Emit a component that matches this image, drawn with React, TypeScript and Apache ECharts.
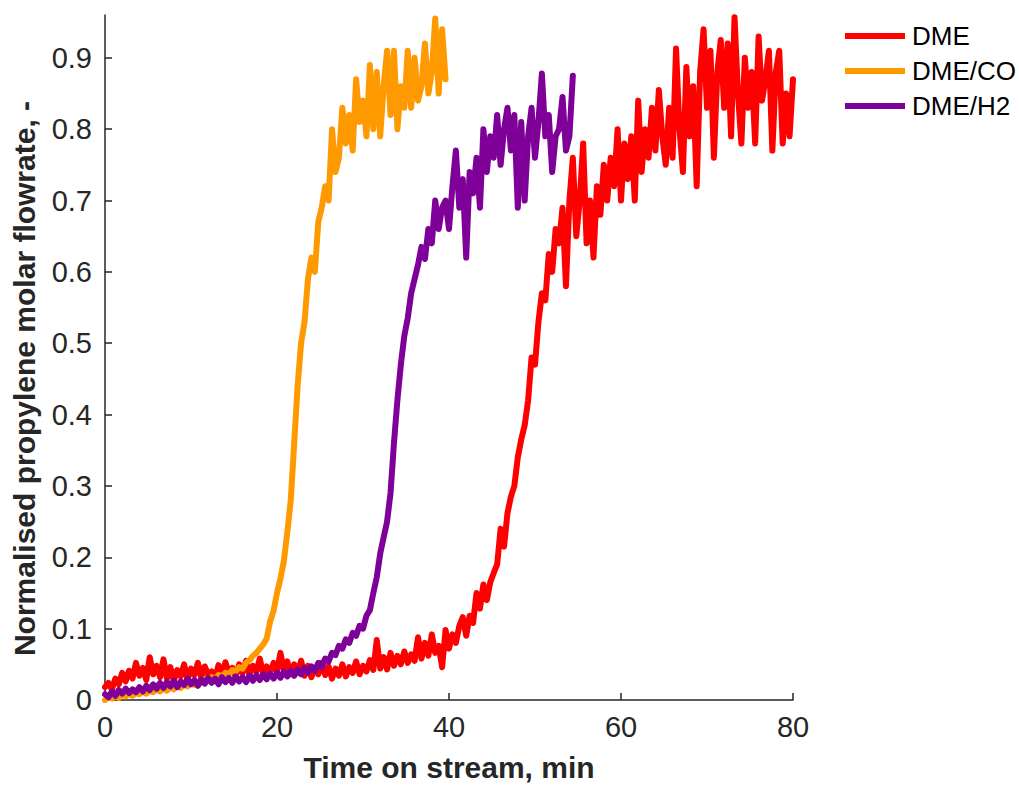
import React, { useEffect, useRef } from "react";
import * as echarts from "echarts";

// Sampling step of the recorded time series (min)
const TIME_STEP = 0.4;

// DME (red), t = 0 ... 80 min
const dmeValues = [
  0.018, 0.024, 0.015, 0.030, 0.022, 0.038, 0.026, 0.041, 0.030, 0.052,
  0.034, 0.045, 0.028, 0.060, 0.036, 0.048, 0.032, 0.057, 0.030, 0.046,
  0.027, 0.042, 0.033, 0.050, 0.029, 0.044, 0.035, 0.052, 0.031, 0.047,
  0.036, 0.040, 0.030, 0.049, 0.034, 0.053, 0.037, 0.045, 0.033, 0.050,
  0.038, 0.055, 0.035, 0.048, 0.040, 0.058, 0.036, 0.047, 0.038, 0.052,
  0.040, 0.066, 0.042, 0.054, 0.036, 0.050, 0.038, 0.055, 0.034, 0.048,
  0.032, 0.045, 0.036, 0.052, 0.035, 0.047, 0.030, 0.044, 0.034, 0.050,
  0.033, 0.046, 0.038, 0.054, 0.036, 0.048, 0.040, 0.056, 0.042, 0.084,
  0.044, 0.060, 0.043, 0.066, 0.048, 0.062, 0.050, 0.068, 0.052, 0.064,
  0.055, 0.088, 0.058, 0.080, 0.062, 0.092, 0.066, 0.076, 0.046, 0.098,
  0.072, 0.092, 0.080, 0.104, 0.116, 0.090, 0.118, 0.108, 0.150, 0.128,
  0.162, 0.140, 0.165, 0.178, 0.190, 0.240, 0.215, 0.262, 0.285, 0.300,
  0.340, 0.365, 0.385, 0.420, 0.480, 0.470, 0.530, 0.570, 0.560, 0.625,
  0.600, 0.660, 0.640, 0.690, 0.580, 0.700, 0.760, 0.650, 0.700, 0.780,
  0.640, 0.700, 0.620, 0.720, 0.680, 0.750, 0.700, 0.760, 0.720, 0.800,
  0.700, 0.780, 0.730, 0.790, 0.700, 0.840, 0.740, 0.800, 0.760, 0.830,
  0.770, 0.855, 0.790, 0.750, 0.830, 0.760, 0.913, 0.800, 0.740, 0.887,
  0.790, 0.860, 0.720, 0.880, 0.940, 0.830, 0.910, 0.760, 0.880, 0.925,
  0.830, 0.920, 0.790, 0.957, 0.850, 0.780, 0.900, 0.830, 0.880, 0.780,
  0.930, 0.840, 0.870, 0.910, 0.770, 0.880, 0.910, 0.780, 0.850, 0.790,
  0.870,
];

// DME/CO (orange), t = 0 ... 39.6 min
const dmeCoValues = [
  0.000, 0.004, 0.002, 0.006, 0.003, 0.008, 0.005, 0.009, 0.006, 0.010,
  0.008, 0.012, 0.009, 0.013, 0.011, 0.015, 0.012, 0.016, 0.013, 0.018,
  0.015, 0.020, 0.017, 0.022, 0.019, 0.024, 0.021, 0.026, 0.024, 0.029,
  0.027, 0.032, 0.030, 0.035, 0.033, 0.038, 0.036, 0.042, 0.040, 0.046,
  0.044, 0.052, 0.056, 0.062, 0.066, 0.072, 0.078, 0.086, 0.110, 0.125,
  0.150, 0.170, 0.195, 0.235, 0.280, 0.360, 0.440, 0.500, 0.530, 0.590,
  0.620, 0.600, 0.670, 0.690, 0.720, 0.700, 0.800, 0.740, 0.760, 0.830,
  0.780, 0.820, 0.770, 0.870, 0.810, 0.840, 0.790, 0.890, 0.800, 0.880,
  0.790, 0.860, 0.910, 0.820, 0.910, 0.800, 0.860, 0.830, 0.910, 0.830,
  0.900, 0.840, 0.860, 0.920, 0.850, 0.880, 0.955, 0.850, 0.940, 0.870,
];

// DME/H2 (purple), t = 0 ... 54.4 min
const dmeH2Values = [
  0.008, 0.004, 0.012, 0.006, 0.014, 0.009, 0.016, 0.010, 0.015, 0.011,
  0.018, 0.012, 0.020, 0.014, 0.022, 0.016, 0.024, 0.017, 0.025, 0.019,
  0.027, 0.018, 0.026, 0.021, 0.030, 0.022, 0.028, 0.020, 0.029, 0.023,
  0.031, 0.024, 0.030, 0.022, 0.032, 0.025, 0.031, 0.024, 0.033, 0.026,
  0.032, 0.025, 0.034, 0.027, 0.035, 0.028, 0.036, 0.029, 0.037, 0.030,
  0.038, 0.031, 0.040, 0.033, 0.041, 0.034, 0.043, 0.036, 0.045, 0.038,
  0.047, 0.041, 0.052, 0.046, 0.058, 0.054, 0.066, 0.063, 0.076, 0.072,
  0.085, 0.080, 0.094, 0.090, 0.104, 0.100, 0.118, 0.126, 0.150, 0.172,
  0.205, 0.228, 0.250, 0.290, 0.360, 0.420, 0.470, 0.510, 0.535, 0.570,
  0.590, 0.610, 0.635, 0.618, 0.660, 0.640, 0.700, 0.660, 0.690, 0.700,
  0.660, 0.720, 0.770, 0.690, 0.730, 0.620, 0.740, 0.710, 0.760, 0.690,
  0.800, 0.740, 0.790, 0.760, 0.820, 0.750, 0.800, 0.830, 0.770, 0.820,
  0.690, 0.810, 0.700, 0.790, 0.830, 0.760, 0.810, 0.878, 0.790, 0.820,
  0.740, 0.790, 0.800, 0.845, 0.770, 0.790, 0.875,
];

const seriesNames = ["DME", "DME/CO", "DME/H2"];
const xTicks = [0, 20, 40, 60, 80];
const yTicks = [0, 0.1, 0.2, 0.3, 0.4, 0.5, 0.6, 0.7, 0.8, 0.9];
const xTitle = "Time on stream, min";
const yTitle = "Normalised propylene molar flowrate, -";

const COLORS = ["#FF0000", "#FF9900", "#7F0099"];
const AXIS_COLOR = "#262626";
const FONT = "'Liberation Sans', Arial, Helvetica, sans-serif";

function toPairs(values: number[]): [number, number][] {
  return values.map((v, i) => [Math.round(i * TIME_STEP * 100) / 100, v]);
}

export default function App() {
  const ref = useRef<HTMLDivElement | null>(null);

  useEffect(() => {
    document.body.style.margin = "0";
    if (!ref.current) return;
    const chart = echarts.init(ref.current, null, { renderer: "svg" });
    const dataSets = [dmeValues, dmeCoValues, dmeH2Values];

    const labelFmtY = (v: number) => {
      const hit = yTicks.find((t) => Math.abs(t - v) < 1e-6);
      if (hit === undefined) return "";
      return hit === 0 ? "0" : hit.toFixed(1);
    };

    chart.setOption({
      animation: false,
      backgroundColor: "#ffffff",
      textStyle: { fontFamily: FONT },
      grid: {
        left: 105,
        top: 15,
        width: 688,
        height: 685,
        containLabel: false,
        outerBoundsMode: "none",
      },
      legend: {
        orient: "vertical",
        left: 845,
        top: 23,
        padding: 0,
        icon: "rect",
        itemWidth: 60,
        itemHeight: 6,
        itemGap: 9,
        data: seriesNames,
        textStyle: { fontSize: 26, color: "#000000", fontFamily: FONT, padding: [0, 0, 0, 2] },
      },
      xAxis: {
        type: "value",
        min: xTicks[0],
        max: xTicks[xTicks.length - 1],
        interval: 20,
        name: xTitle,
        nameLocation: "middle",
        nameGap: 52,
        nameTextStyle: { fontSize: 30, fontWeight: "bold", color: AXIS_COLOR, fontFamily: FONT },
        axisLine: { lineStyle: { color: AXIS_COLOR, width: 1.5 } },
        axisTick: { inside: true, length: 7, lineStyle: { color: AXIS_COLOR, width: 1.5 } },
        axisLabel: { fontSize: 29, color: AXIS_COLOR, margin: 12, fontFamily: FONT },
        splitLine: { show: false },
      },
      yAxis: {
        type: "value",
        min: 0,
        max: 0.96,
        interval: 0.1,
        name: yTitle,
        nameLocation: "middle",
        nameGap: 66,
        nameRotate: 90,
        nameTextStyle: { fontSize: 30, fontWeight: "bold", color: AXIS_COLOR, fontFamily: FONT, padding: [0, 42, 0, 0] },
        axisLine: { lineStyle: { color: AXIS_COLOR, width: 1.5 } },
        axisTick: { inside: true, length: 7, lineStyle: { color: AXIS_COLOR, width: 1.5 } },
        axisLabel: { fontSize: 29, color: AXIS_COLOR, margin: 13, fontFamily: FONT, formatter: labelFmtY, showMaxLabel: false },
        splitLine: { show: false },
      },
      series: seriesNames.map((name, k) => ({
        name,
        type: "line",
        data: toPairs(dataSets[k]),
        showSymbol: false,
        symbol: "none",
        color: COLORS[k],
        lineStyle: { color: COLORS[k], width: 6, cap: "round", join: "round" },
        z: 2 + k,
      })),
    });

    return () => chart.dispose();
  }, []);

  return (
    <div
      ref={ref}
      style={{ position: "absolute", left: 0, top: 0, width: 1019, height: 787 }}
    />
  );
}
